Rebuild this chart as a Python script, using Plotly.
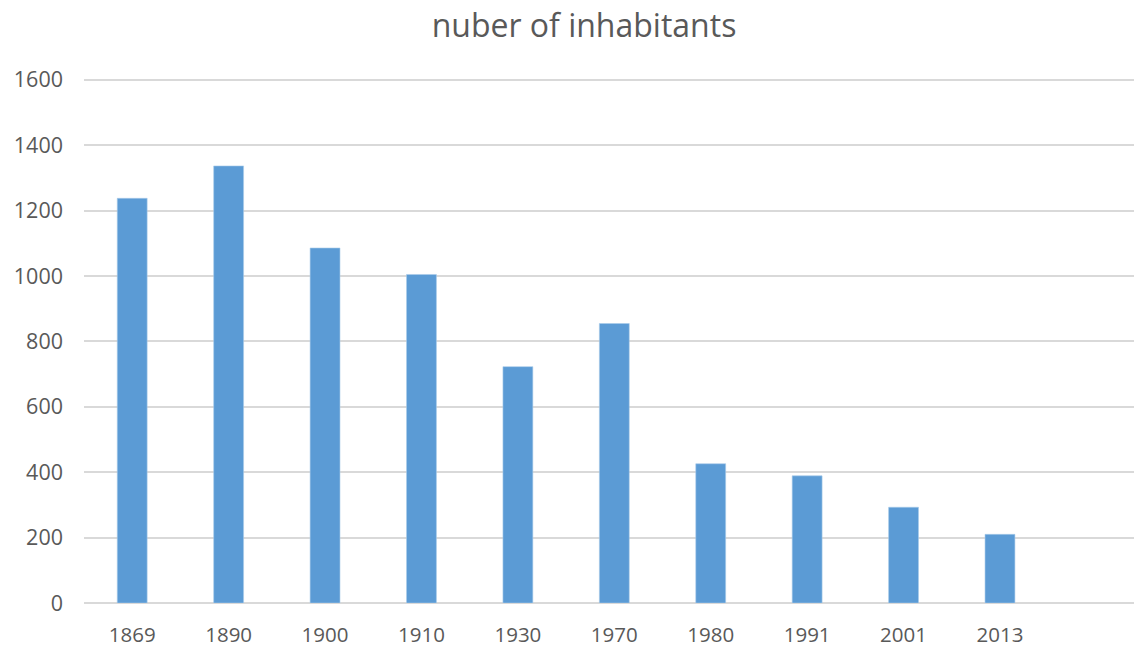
import plotly.graph_objects as go

years = ["1869", "1890", "1900", "1910", "1930", "1970", "1980", "1991", "2001", "2013"]
inhabitants = [1238, 1337, 1086, 1005, 723, 855, 426, 389, 293, 210]
y_ticks = [0, 200, 400, 600, 800, 1000, 1200, 1400, 1600]

TEXT = "#595959"
FONT = "Open Sans"

fig = go.Figure(
    go.Bar(
        x=years,
        y=inhabitants,
        marker=dict(color="#5B9BD5", line=dict(color="#A9CBEA", width=0.6)),
        width=0.31,
        hoverinfo="x+y",
    )
)

fig.update_layout(
    width=1134,
    height=648,
    margin=dict(l=84, r=0, t=78, b=42),
    paper_bgcolor="white",
    plot_bgcolor="white",
    showlegend=False,
    title=dict(
        text="nuber of inhabitants",
        x=584 / 1134,
        xanchor="center",
        xref="container",
        y=1 - 26 / 648,
        yanchor="middle",
        yref="container",
        font=dict(family=FONT, size=32, color=TEXT),
    ),
    font=dict(family=FONT, color=TEXT),
)

fig.update_xaxes(
    type="category",
    range=[-0.5, 10.39],
    showgrid=False,
    showline=False,
    ticks="",
    tickfont=dict(family=FONT, size=20.5, color=TEXT),
    ticklabelstandoff=17,
)

fig.update_yaxes(
    range=[0, 1606],
    tickvals=y_ticks,
    showgrid=True,
    gridcolor="#D9D9D9",
    gridwidth=1.6,
    zeroline=True,
    zerolinecolor="#D9D9D9",
    zerolinewidth=1.6,
    showline=False,
    ticks="",
    tickfont=dict(family=FONT, size=21.5, color=TEXT),
    ticklabelstandoff=20,
)

fig.write_html(
    "out.html",
    config={"displayModeBar": False},
    post_script="document.body.style.margin='0';document.body.style.overflow='hidden';",
)
